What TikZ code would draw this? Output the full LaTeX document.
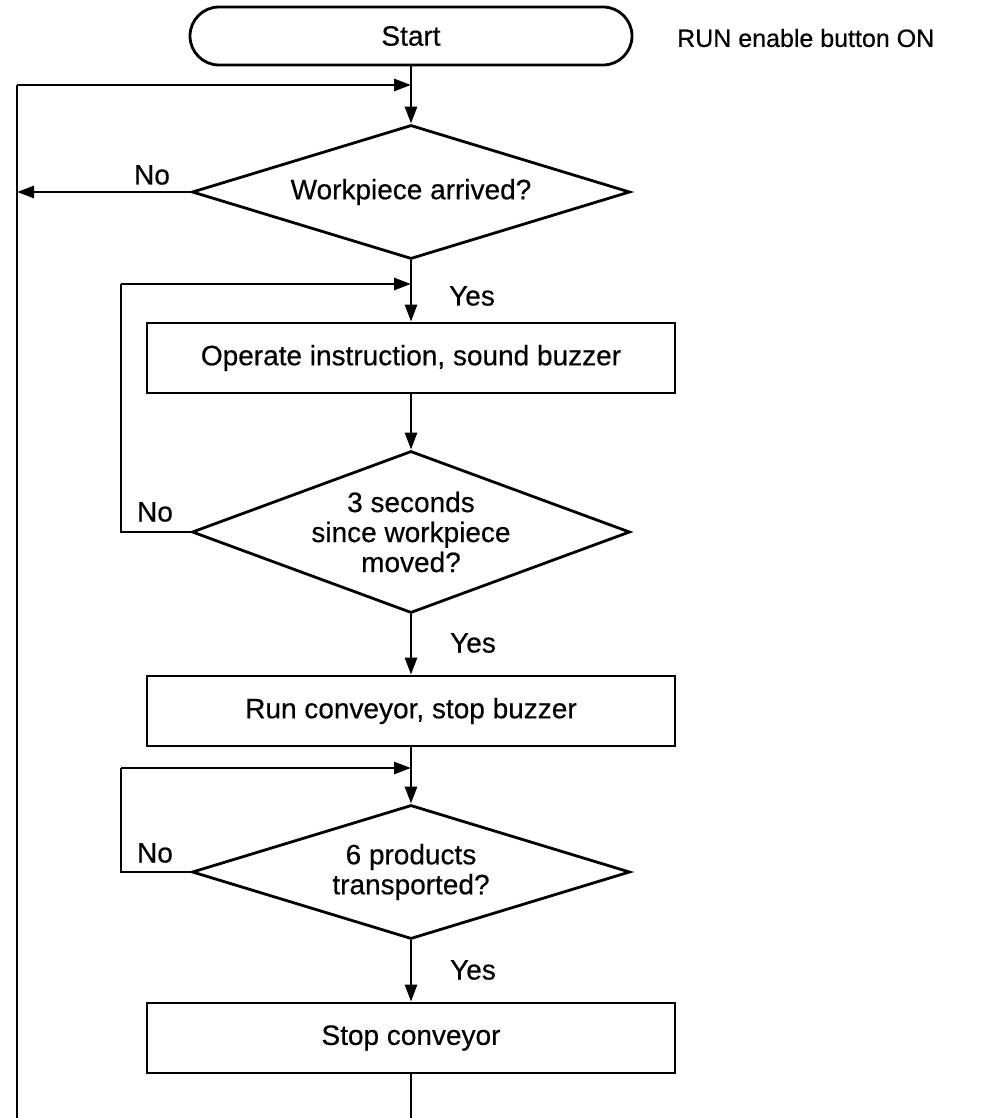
\documentclass[tikz,border=0pt]{standalone}
\usepackage{fontspec}
\setmainfont[FakeBold=0.4]{Liberation Sans}
\usetikzlibrary{shapes.geometric,shapes.misc,arrows.meta}
\begin{document}
\begin{tikzpicture}[x=1pt,y=-1pt,
  every node/.style={font=\fontsize{28}{30}\selectfont},
  ln/.style={line width=2.8pt},
  arr/.style={ln,-{Triangle[length=17pt,width=12pt]}},
  procbox/.style={draw,ln,rectangle,minimum width=528pt,minimum height=70pt,inner sep=0pt},
  decis/.style={draw,ln,diamond,aspect=3.27,minimum width=438pt,minimum height=134pt,inner sep=0pt,align=center},
  term/.style={draw,ln,rounded rectangle,minimum width=442pt,minimum height=58pt,inner sep=0pt},
  lbl/.style={inner sep=0pt}]
\useasboundingbox (0,0) rectangle (994,1118);
\fill[white] (0,0) rectangle (994,1118);
% nodes
\node[term] (start) at (411,36) {Start};
\node[lbl,anchor=west,font=\fontsize{25}{30}\selectfont] (run) at (677,38) {RUN enable button ON};
\coordinate (j1) at (411,85);
\node[decis] (d1) at (411,192) {Workpiece arrived?};
\coordinate (j2) at (411,284);
\node[procbox] (b1) at (411,358) {Operate instruction, sound buzzer};
\node[decis,aspect=2.7,minimum height=162pt] (d2) at (411,532) {3 seconds\\since workpiece\\moved?};
\node[procbox] (b2) at (411,711) {Run conveyor, stop buzzer};
\coordinate (j3) at (411,768);
\node[decis] (d3) at (411,872) {6 products\\transported?};
\node[procbox] (b3) at (411,1038) {Stop conveyor};
\coordinate (bot) at (411,1118);
\coordinate (lb) at (17,1118);
\coordinate (lt) at (17,85);
\coordinate (ln1) at (17,192);
\coordinate (l2b) at (121,532);
\coordinate (l2t) at (121,284);
\coordinate (l3b) at (121,872);
\coordinate (l3t) at (121,768);
% labels
\node[lbl] (no1) at (152,175) {No};
\node[lbl] (no2) at (155,512) {No};
\node[lbl] (no3) at (155,853) {No};
\node[lbl] (yes1) at (472,296) {Yes};
\node[lbl] (yes2) at (473,643) {Yes};
\node[lbl] (yes3) at (473,970) {Yes};
% connectors
\draw[ln] (start.south) -- (j1);
\draw[arr] (j1) -- (d1.north);
\draw[ln] (lb) -- (lt);
\draw[arr] (lt) -- (j1);
\draw[arr] (d1.west) -- (ln1);
\draw[ln] (d1.south) -- (j2);
\draw[arr] (j2) -- (b1.north);
\draw[arr] (b1.south) -- (d2.north);
\draw[ln] (d2.west) -- (l2b) -- (l2t);
\draw[arr] (l2t) -- (j2);
\draw[arr] (d2.south) -- (b2.north);
\draw[ln] (b2.south) -- (j3);
\draw[arr] (j3) -- (d3.north);
\draw[ln] (d3.west) -- (l3b) -- (l3t);
\draw[arr] (l3t) -- (j3);
\draw[arr] (d3.south) -- (b3.north);
\draw[ln] (b3.south) -- (bot);
\end{tikzpicture}
\end{document}
